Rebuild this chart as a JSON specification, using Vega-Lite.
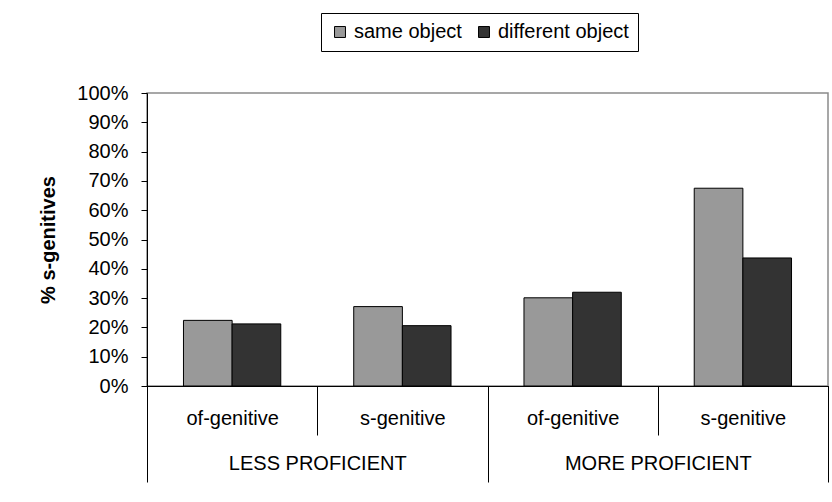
{
  "$schema": "https://vega.github.io/schema/vega-lite/v6.json",
  "width": 681,
  "height": 293,
  "autosize": {"type": "none"},
  "padding": {"left": 147, "top": 93, "right": 4, "bottom": 116},
  "background": "white",
  "config": {
    "font": "Liberation Sans",
    "view": {"stroke": "#8a8a8a", "strokeWidth": 1.5},
    "axis": {
      "domainColor": "black",
      "tickColor": "black",
      "labelColor": "black",
      "titleColor": "black",
      "grid": false,
      "labelFont": "Liberation Sans",
      "titleFont": "Liberation Sans",
      "labelFontSize": 20,
      "labelLimit": 400,
      "labelOverlap": false
    }
  },
  "data": {
    "values": [
      {"proficiency": "LESS PROFICIENT", "genitive": "of-genitive", "cat": "LESS PROFICIENT|of-genitive", "series": "same object", "value": 0.224},
      {"proficiency": "LESS PROFICIENT", "genitive": "of-genitive", "cat": "LESS PROFICIENT|of-genitive", "series": "different object", "value": 0.212},
      {"proficiency": "LESS PROFICIENT", "genitive": "s-genitive", "cat": "LESS PROFICIENT|s-genitive", "series": "same object", "value": 0.271},
      {"proficiency": "LESS PROFICIENT", "genitive": "s-genitive", "cat": "LESS PROFICIENT|s-genitive", "series": "different object", "value": 0.206},
      {"proficiency": "MORE PROFICIENT", "genitive": "of-genitive", "cat": "MORE PROFICIENT|of-genitive", "series": "same object", "value": 0.301},
      {"proficiency": "MORE PROFICIENT", "genitive": "of-genitive", "cat": "MORE PROFICIENT|of-genitive", "series": "different object", "value": 0.320},
      {"proficiency": "MORE PROFICIENT", "genitive": "s-genitive", "cat": "MORE PROFICIENT|s-genitive", "series": "same object", "value": 0.675},
      {"proficiency": "MORE PROFICIENT", "genitive": "s-genitive", "cat": "MORE PROFICIENT|s-genitive", "series": "different object", "value": 0.437}
    ]
  },
  "encoding": {
    "y": {
      "field": "value",
      "type": "quantitative",
      "scale": {"domain": [0, 1]},
      "axis": {
        "values": [0, 0.1, 0.2, 0.3, 0.4, 0.5, 0.6, 0.7, 0.8, 0.9, 1],
        "format": ".0%",
        "tickSize": 6,
        "labelPadding": 13,
        "labelOverlap": false,
        "title": "% s-genitives",
        "titleFontSize": 20,
        "titleFontWeight": "bold",
        "titleX": -99,
        "titleY": 146.5,
        "titleBaseline": "middle",
        "titleAngle": 270
      }
    }
  },
  "layer": [
    {
      "mark": {"type": "bar", "stroke": "black", "strokeWidth": 1},
      "encoding": {
        "x": {
          "field": "cat",
          "type": "nominal",
          "sort": null,
          "scale": {"paddingInner": 0, "paddingOuter": 0},
          "axis": {
            "orient": "bottom",
            "title": null,
            "labelAngle": 0,
            "tickBand": "extent",
            "tickSize": 49,
            "labelPadding": -27,
            "labelOverlap": false,
            "labelExpr": "split(datum.value, '|')[1]"
          }
        },
        "xOffset": {
          "field": "series",
          "type": "nominal",
          "sort": ["same object", "different object"],
          "scale": {"paddingInner": 0, "paddingOuter": 0.75}
        },
        "color": {
          "field": "series",
          "type": "nominal",
          "scale": {"domain": ["same object", "different object"], "range": ["#999999", "#333333"]},
          "legend": {
            "orient": "none",
            "legendX": 174,
            "legendY": -80,
            "direction": "horizontal",
            "title": null,
            "strokeColor": "black",
            "fillColor": "white",
            "padding": 9,
            "labelFontSize": 20,
            "labelColor": "black",
            "symbolType": "square",
            "symbolSize": 120,
            "symbolStrokeColor": "black",
            "symbolStrokeWidth": 1,
            "columnPadding": 12,
            "labelOffset": 4
          }
        }
      }
    },
    {
      "mark": {"type": "bar", "opacity": 0},
      "encoding": {
        "x": {
          "field": "proficiency",
          "type": "nominal",
          "scale": {"paddingInner": 0, "paddingOuter": 0},
          "axis": {
            "orient": "bottom",
            "title": null,
            "labelAngle": 0,
            "tickBand": "extent",
            "tickSize": 96,
            "labelPadding": -29,
            "labelOverlap": false,
            "labelBound": false
          }
        }
      }
    }
  ],
  "resolve": {"scale": {"x": "independent"}, "axis": {"x": "independent"}}
}
